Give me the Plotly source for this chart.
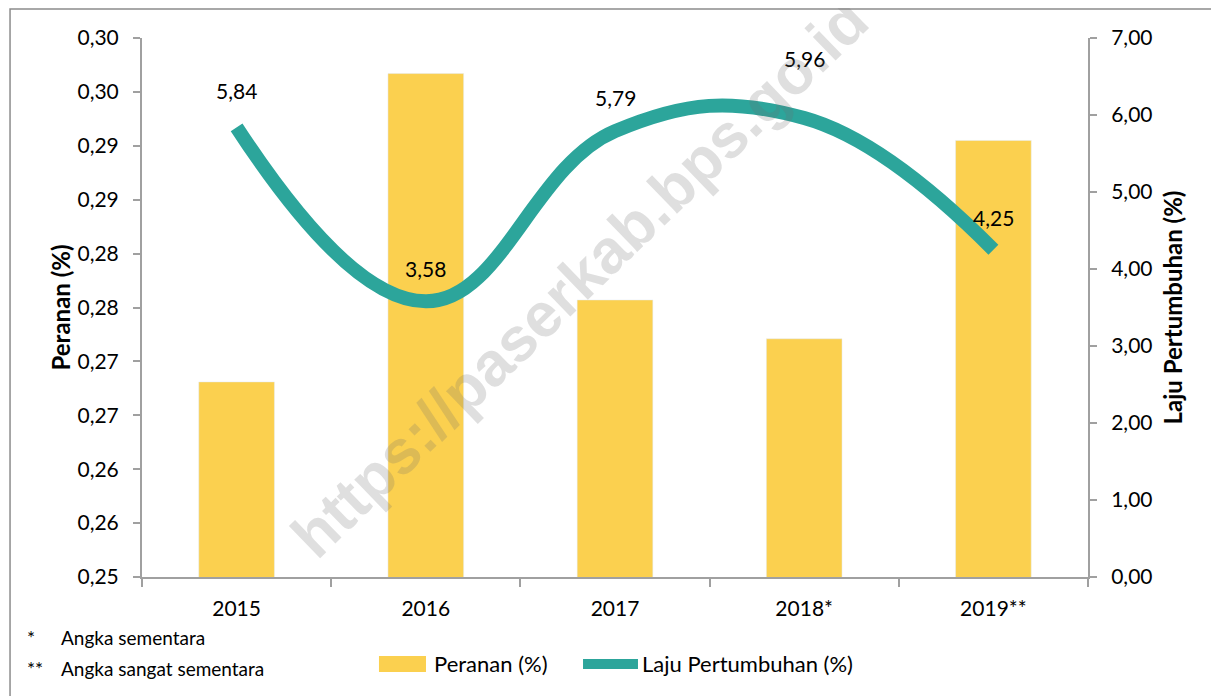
import plotly.graph_objects as go

tahun = ["2015", "2016", "2017", "2018*", "2019**"]
peranan = [0.2681, 0.2967, 0.2757, 0.2721, 0.2905]
laju = [5.84, 3.58, 5.79, 5.96, 4.25]
laju_label = ["5,84", "3,58", "5,79", "5,96", "4,25"]

kiri_vals = [0.25, 0.255, 0.26, 0.265, 0.27, 0.275, 0.28, 0.285, 0.29, 0.295, 0.30]
kiri_text = ["0,25", "0,26", "0,26", "0,27", "0,27", "0,28", "0,28", "0,29", "0,29", "0,30", "0,30"]

# how far above the line each label sits (px)
label_shift = [37, 33, 34, 60, 32]

font = "Lato, 'Open Sans', sans-serif"
axis_grey = "#a0a0a0"
kuning = "#fbd04f"
hijau = "#2ca59b"

fig = go.Figure()
fig.add_trace(go.Bar(x=tahun, y=peranan, name="Peranan (%)", marker_color=kuning,
                     width=0.4, yaxis="y", showlegend=False))
fig.add_trace(go.Scatter(x=tahun, y=laju, name="Laju Pertumbuhan (%)", mode="lines",
                         line=dict(color=hijau, width=14, shape="spline", smoothing=1.2),
                         yaxis="y2", showlegend=False))

# data labels (x as category index so autorange is not disturbed)
for i, (v, lab, sh) in enumerate(zip(laju, laju_label, label_shift)):
    fig.add_annotation(x=i, y=v, yref="y2", text=lab, showarrow=False, yshift=sh,
                       font=dict(size=21, color="black", family=font))

# watermark
fig.add_annotation(x=0.463, y=0.555, xref="paper", yref="paper", text="<b>https://paserkab.bps.go.id</b>",
                   showarrow=False, textangle=-44,
                   font=dict(size=62, color="rgba(110,110,110,0.22)", family="Liberation Sans, Arial, sans-serif"))

# footnotes
for py, mark, txt in [(-0.113, "*", "Angka sementara"), (-0.169, "**", "Angka sangat sementara")]:
    fig.add_annotation(x=-0.1237, y=py, xref="paper", yref="paper", text=mark, showarrow=False,
                       xanchor="left", yanchor="middle", font=dict(size=19, color="black", family=font))
    fig.add_annotation(x=-0.0877, y=py, xref="paper", yref="paper", text=txt, showarrow=False,
                       xanchor="left", yanchor="middle", font=dict(size=19, color="black", family=font))

# legend drawn by hand (wide swatches as in the original)
fig.add_shape(type="rect", xref="paper", yref="paper", x0=0.2505, x1=0.3002, y0=-0.1763, y1=-0.1466,
              line=dict(width=0), fillcolor=kuning)
fig.add_annotation(x=0.3066, y=-0.1614, xref="paper", yref="paper", text="Peranan (%)", showarrow=False,
                   xanchor="left", yanchor="middle", font=dict(size=22, color="black", family=font))
fig.add_shape(type="line", xref="paper", yref="paper", x0=0.4662, x1=0.5243, y0=-0.1614, y1=-0.1614,
              line=dict(width=10, color=hijau))
fig.add_annotation(x=0.5264, y=-0.1614, xref="paper", yref="paper", text="Laju Pertumbuhan (%)",
                   showarrow=False, xanchor="left", yanchor="middle",
                   font=dict(size=22, color="black", family=font))

# outer frame
fig.add_shape(type="rect", xref="paper", yref="paper", x0=-0.1395, x1=1.2, y0=-0.3, y1=1.054,
              line=dict(color="#8c8c8c", width=1.5))

# page body has an 8px margin, so the figure is drawn 8px smaller and shifted
fig.update_layout(
    width=1211, height=688,
    margin=dict(l=134, r=131, t=30, b=119, autoexpand=False),
    plot_bgcolor="white", paper_bgcolor="white",
    font=dict(family=font, size=21, color="black"),
    showlegend=False,
    xaxis=dict(type="category", range=[-0.5, 4.5], showline=True, linecolor=axis_grey, linewidth=2,
               ticks="outside", tickson="boundaries", ticklen=8, tickcolor=axis_grey,
               tickwidth=2, showgrid=False, tickfont=dict(size=21), ticklabelstandoff=12),
    yaxis=dict(range=[0.25, 0.30], tickvals=kiri_vals, ticktext=kiri_text, showgrid=False,
               showline=True, linecolor=axis_grey, linewidth=2, ticks="outside", ticklen=7,
               tickcolor=axis_grey, tickwidth=2, zeroline=False, ticklabelstandoff=10,
               title=dict(text="<b>Peranan (%)</b>", font=dict(size=24), standoff=0)),
    yaxis2=dict(range=[0, 7], dtick=1, tickformat=".2f", overlaying="y", side="right",
                showgrid=False, showline=True, linecolor=axis_grey, linewidth=2, ticks="outside",
                ticklen=7, tickcolor=axis_grey, tickwidth=2, zeroline=False, ticklabelstandoff=10,
                title=dict(text="<b>Laju Pertumbuhan (%)</b>", font=dict(size=24), standoff=14)),
    separators=", ",
)

fig.write_html("out.html")
